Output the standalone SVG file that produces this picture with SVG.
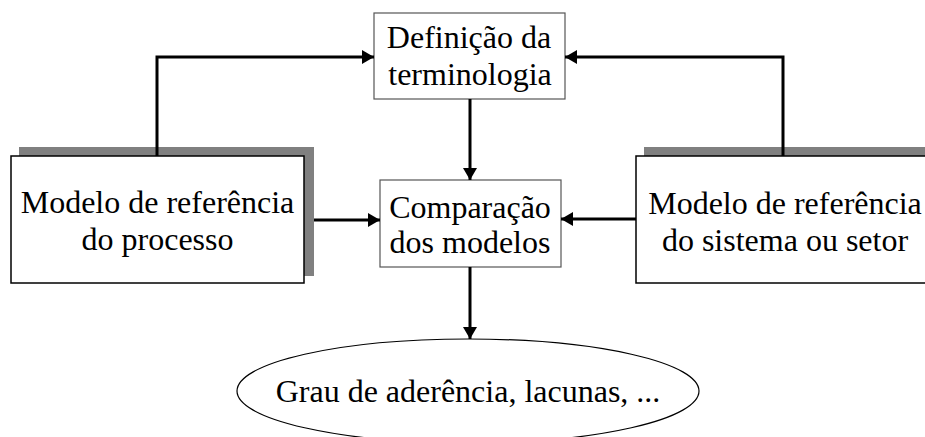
<svg xmlns="http://www.w3.org/2000/svg" width="925" height="437" viewBox="0 0 925 437">
<style>
text{font-family:"Liberation Serif","Times New Roman",serif;font-size:32px;fill:#000;text-anchor:middle}
.shadow{fill:#808080;stroke:none}
.box{fill:#fff;stroke:#000;stroke-width:1.5}
.tbox{fill:#fff;stroke:#555;stroke-width:1.2}
.conn{fill:none;stroke:#000;stroke-width:3}
</style>
<defs>
<marker id="ah" markerUnits="userSpaceOnUse" markerWidth="13" markerHeight="15" refX="12" refY="7" orient="auto">
<path d="M0,0 L12,7 L0,14 z" fill="#000"/>
</marker>
</defs>
<rect width="925" height="437" fill="#fff"/>
<g id="processo">
<rect class="shadow" x="19" y="147" width="295" height="129"/>
<rect class="box" x="11" y="156" width="293" height="127"/>
<text x="157.5" y="213">Modelo de referência</text>
<text x="157.5" y="250">do processo</text>
</g>
<g id="sistema">
<rect class="shadow" x="644" y="147" width="300" height="129"/>
<rect class="box" x="636" y="156" width="300" height="127"/>
<text x="785" y="214">Modelo de referência</text>
<text x="785" y="251">do sistema ou setor</text>
</g>
<g id="terminologia">
<rect class="tbox" x="374" y="13" width="191" height="86"/>
<text x="469" y="48">Definição da</text>
<text x="470" y="85">terminologia</text>
</g>
<g id="comparacao">
<rect class="tbox" x="380" y="180" width="181" height="87"/>
<text x="470" y="218">Comparação</text>
<text x="470" y="253">dos modelos</text>
</g>
<g id="resultado">
<ellipse cx="468" cy="391" rx="231" ry="52" fill="#fff" stroke="#000" stroke-width="1.2"/>
<text x="468" y="402">Grau de aderência, lacunas, ...</text>
</g>
<g id="connectors">
<path class="conn" d="M157,156 V57 H374" marker-end="url(#ah)"/>
<path class="conn" d="M783,156 V57 H565" marker-end="url(#ah)"/>
<path class="conn" d="M470,99 V180" marker-end="url(#ah)"/>
<path class="conn" d="M314,220 H380" marker-end="url(#ah)"/>
<path class="conn" d="M636,219 H561" marker-end="url(#ah)"/>
<path class="conn" d="M470,267 V339" marker-end="url(#ah)"/>
</g>
</svg>
